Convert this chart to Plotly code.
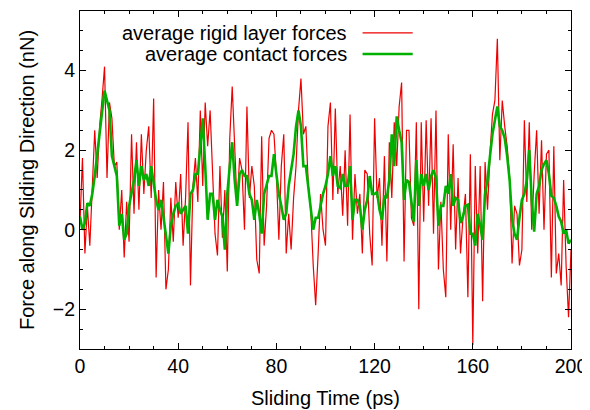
import plotly.graph_objects as go

# sliding time in ps, one sample per ps
time_ps = list(range(0, 201))

rigid_layer = [
    0.2, 1.8, -0.6, 0.6, -0.4, 1.1, 2.5, 1.3, 2.6, 3.3,
    4.1, 1.3, 3.2, 2.8, 1.6, 1.7, 0.0, 1.0, -0.7, 0.7,
    -0.3, 2.4, 0.4, 2.2, 0.5, 2.4, 0.9, 2.0, 2.6, 0.8,
    3.3, -1.2, 1.0, 0.0, 1.2, -1.5, -1.0, 0.8, -0.3, 1.2,
    0.3, 1.4, -0.4, 0.8, 2.7, -1.4, 1.1, 1.8, 0.7, 3.0,
    1.1, 3.2, 2.1, 3.0, 1.3, -0.1, -0.65, 1.6, -0.2, 1.0,
    -1.05, 2.3, 3.6, 2.0, 0.6, 1.8, 1.5, 0.0, 3.1, 0.8,
    1.6, 1.1, -0.75, -1.1, 2.35, -0.4, 0.6, 2.3, 2.5, 2.4,
    1.4, -0.25, 1.6, 2.4, -0.6, 0.4, -0.5, 0.8, 1.6, 3.0,
    3.8, 2.4, 2.6, 1.1, 0.5, -0.9, -1.9, -0.6, 0.9, 0.0,
    -0.4, 2.6, 3.2, 0.75, 3.05, 0.9, 1.6, 0.35, 2.0, 0.1,
    2.9, -0.25, 1.4, 0.4, 0.9, -0.6, 1.5, 1.4, -0.1, -0.9,
    2.8, 0.8, 1.3, -0.4, 1.85, -0.8, 2.2, 0.8, 2.7, 1.6,
    3.1, 3.7, -0.8, 2.5, 2.5, 0.3, 0.1, 2.7, -2.0, 2.7,
    0.2, 2.75, 0.6, 2.8, -0.1, 3.0, -1.0, 0.7, -1.0, -1.7,
    2.4, 0.0, 2.15, -0.5, 1.3, -0.6, 0.3, 0.9, -1.7, 1.9,
    -2.9, 1.6, -0.6, 1.6, -1.8, 1.7, 0.5, 1.9, 2.9, 3.25,
    4.8, 1.75, 3.25, 2.6, 2.1, 1.3, -0.85, 0.6, 0.4, -0.9,
    -0.5, 2.75, 0.7, 2.7, 0.0, 1.4, 2.5, 0.4, 2.25, 0.0,
    1.9, 2.0, -1.2, 2.1, -1.1, -0.6, -1.4, 1.25, -0.9, -2.2,
    -0.5,
]

contact = [
    0.33, 0.0, 0.17, 0.67, 0.6, 0.9, 1.35, 1.9, 2.4, 3.0,
    3.5, 3.25, 3.0, 1.85, 1.6, 1.35, 0.1, 0.4, -0.25, -0.1,
    0.6, 0.9, 1.25, 1.75, 1.1, 1.6, 1.25, 1.4, 1.1, 1.6,
    1.1, 0.75, 0.5, 0.75, 0.33, -0.1, -0.6, 0.1, 0.4, 0.6,
    0.65, 0.4, 0.5, 0.6, -0.1, 0.9, 1.0, 1.4, 1.4, 2.05,
    2.8, 1.6, 0.25, 0.9, 0.9, 0.25, 0.75, 0.5, 0.33, -0.5,
    0.9, 1.6, 2.2, 1.25, 0.6, 1.4, 1.5, 1.35, 1.35, 0.9,
    0.75, 0.25, 0.75, 0.4, -0.1, 0.9, 1.1, 1.35, 1.35, 1.9,
    1.4, 0.9, 0.6, 0.25, 0.4, 1.1, 1.5, 1.9, 2.6, 3.0,
    2.6, 1.6, 1.6, 1.1, 0.6, 0.0, 0.3, 0.3, 0.6, 0.9,
    1.1, 1.4, 1.85, 1.35, 1.6, 1.1, 1.05, 1.4, 1.1, 1.1,
    1.6, 0.25, 0.75, 0.75, 0.6, 0.0, 0.5, 0.75, 1.35, 0.9,
    0.9, 0.95, 0.5, 0.25, 0.85, 0.8, 1.25, 2.4, 1.6, 2.85,
    2.5, 2.2, 0.75, 1.25, 1.2, 0.75, 0.2, 1.75, 0.6, 1.4,
    1.1, 1.4, 1.0, 1.35, 1.5, 1.3, 0.1, 0.6, 0.6, 1.1,
    0.9, 1.4, 0.6, 0.8, 0.75, 0.17, 0.33, 0.6, 0.63, -0.1,
    -0.1, -0.4, 0.4, 0.1, -0.25, 0.9, 1.25, 1.85, 2.4, 2.75,
    3.1, 2.6, 2.5, 2.3, 1.85, 1.25, 0.25, -0.1, -0.25, 0.3,
    0.75, 0.9, 1.25, 2.0, 0.75, -0.05, 0.9, 1.1, 1.5, 1.65,
    1.75, 1.4, 0.85, 0.8, 0.6, 0.33, 0.2, -0.1, 0.0, -0.35,
    -0.25,
]

x_ticks = [0, 40, 80, 120, 160, 200]
y_ticks = [-2, 0, 2, 4]

RED = "#ee0000"
GREEN = "#00b000"
FONT = "Liberation Sans, Arial, sans-serif"

fig = go.Figure()
fig.add_trace(go.Scatter(x=time_ps, y=rigid_layer, mode="lines",
                         name="average rigid layer forces",
                         line=dict(color=RED, width=1.2)))
fig.add_trace(go.Scatter(x=time_ps, y=contact, mode="lines",
                         name="average contact forces",
                         line=dict(color=GREEN, width=2.6)))

axis_common = dict(
    showgrid=False, zeroline=False, showline=True, linecolor="black",
    linewidth=1, mirror="allticks", ticks="inside", ticklen=6,
    tickcolor="black", tickfont=dict(size=19.5, color="black"),
    automargin=False,
)
fig.update_xaxes(range=[0, 200], tickvals=x_ticks,
                 minor=dict(dtick=10, tick0=0, ticks="inside", ticklen=3, tickcolor="black"),
                 title=dict(text="Sliding Time (ps)", font=dict(size=20, color="black"), standoff=14),
                 **axis_common)
fig.update_yaxes(range=[-3, 5.5], tickvals=y_ticks,
                 minor=dict(dtick=0.5, tick0=0, ticks="inside", ticklen=3, tickcolor="black"),
                 title=dict(text="Force along Sliding Direction (nN)", font=dict(size=20, color="black"), standoff=12),
                 **axis_common)

# gnuplot style key: right aligned text followed by a line sample
for label, color, width, yp in [("average rigid layer forces", RED, 1.2, 0.935),
                                ("average contact forces", GREEN, 2.6, 0.873)]:
    fig.add_annotation(x=0.547, y=yp, xref="paper", yref="paper", text=label,
                       showarrow=False, xanchor="right", yanchor="middle",
                       font=dict(size=20, color="black", family=FONT))
    fig.add_shape(type="line", xref="paper", yref="paper", x0=0.5755, x1=0.6776,
                  y0=yp, y1=yp, line=dict(color=color, width=width))

# page body keeps its 8px default margin, so the figure is 8px smaller
fig.update_layout(
    width=582, height=402,
    margin=dict(l=72, r=19, t=3, b=61),
    paper_bgcolor="white", plot_bgcolor="white",
    font=dict(family=FONT, color="black"),
    showlegend=False,
)

fig.write_html("out.html")
